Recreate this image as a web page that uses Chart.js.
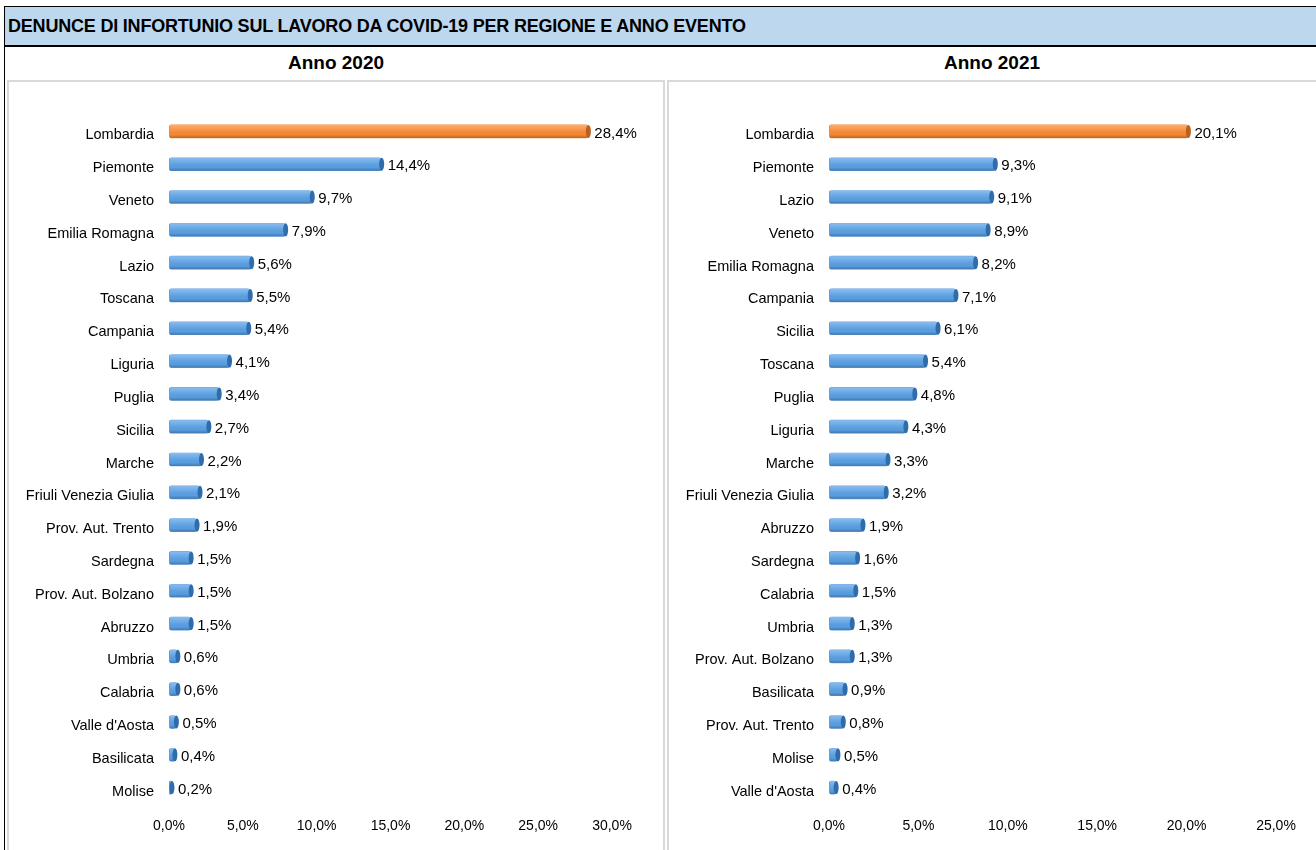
<!DOCTYPE html>
<html>
<head>
<meta charset="utf-8">
<script src="https://cdn.jsdelivr.net/npm/chart.js@4.4.1/dist/chart.umd.min.js"></script>
<style>
  html, body { margin:0; padding:0; background:#fff; width:1316px; height:850px; overflow:hidden; font-family:"Liberation Sans", Arial, sans-serif; }
  #frame { position:absolute; left:4px; top:6px; width:1312px; height:850px; border-left:1px solid #000; border-top:1px solid #000; }
  #title { position:absolute; left:5px; top:7px; width:1311px; height:40px; background:#BDD7EE; border-bottom:2px solid #000; font-weight:bold; font-size:18px; line-height:39px; padding-left:3px; box-sizing:border-box; color:#000; letter-spacing:-0.2px; }
  .sub { position:absolute; top:52px; font-weight:bold; font-size:19px; color:#000; text-align:center; }
  .panel { position:absolute; top:80px; height:780px; border:2px solid #d9d9d9; box-sizing:border-box; }
  canvas { position:absolute; }
</style>
</head>
<body>
<div id="frame"></div>
<div id="title">DENUNCE DI INFORTUNIO SUL LAVORO DA COVID-19 PER REGIONE E ANNO EVENTO</div>
<div class="sub" style="left:8px; width:656px;">Anno 2020</div>
<div class="sub" style="left:668px; width:648px;">Anno 2021</div>
<div class="panel" style="left:7px; width:658px;"></div>
<div class="panel" style="left:667px; width:660px;"></div>
<canvas id="c2020" style="left:8px; top:80px;" width="656" height="770"></canvas>
<canvas id="c2021" style="left:668px; top:80px;" width="648" height="770"></canvas>
<script>
const regions2020 = ["Lombardia","Piemonte","Veneto","Emilia Romagna","Lazio","Toscana","Campania","Liguria","Puglia","Sicilia","Marche","Friuli Venezia Giulia","Prov. Aut. Trento","Sardegna","Prov. Aut. Bolzano","Abruzzo","Umbria","Calabria","Valle d'Aosta","Basilicata","Molise"];
const values2020 = [28.4,14.4,9.7,7.9,5.6,5.5,5.4,4.1,3.4,2.7,2.2,2.1,1.9,1.5,1.5,1.5,0.6,0.6,0.5,0.4,0.2];
const regions2021 = ["Lombardia","Piemonte","Lazio","Veneto","Emilia Romagna","Campania","Sicilia","Toscana","Puglia","Liguria","Marche","Friuli Venezia Giulia","Abruzzo","Sardegna","Calabria","Umbria","Prov. Aut. Bolzano","Basilicata","Prov. Aut. Trento","Molise","Valle d'Aosta"];
const values2021 = [20.1,9.3,9.1,8.9,8.2,7.1,6.1,5.4,4.8,4.3,3.3,3.2,1.9,1.6,1.5,1.3,1.3,0.9,0.8,0.5,0.4];
const axisMax2020 = 30;
const axisMax2021 = 25;

const FONT = "'Liberation Sans', Arial, sans-serif";
const BLUE = "#5AA0E4", ORANGE = "#F98A35";
const fmt = v => v.toFixed(1).replace('.', ',') + '%';

const cylinderPlugin = {
  id: 'cylinder',
  afterDatasetsDraw(chart) {
    const ctx = chart.ctx;
    const meta = chart.getDatasetMeta(0);
    const ds = chart.data.datasets[0];
    meta.data.forEach((bar, i) => {
      const { x, y, base, height } = bar.getProps(['x','y','base','height'], true);
      const top = y - height/2, h = height;
      ctx.save();
      const g = ctx.createLinearGradient(0, top, 0, top + h);
      g.addColorStop(0, 'rgba(255,255,255,0.30)');
      g.addColorStop(0.4, 'rgba(255,255,255,0.08)');
      g.addColorStop(0.75, 'rgba(0,0,0,0.02)');
      g.addColorStop(1, 'rgba(0,0,0,0.25)');
      ctx.fillStyle = g;
      ctx.beginPath();
      ctx.rect(base + 1, top, Math.max(x - base - 1, 0), h);
      ctx.fill();
      const cap = i === 0 ? '#B8601F' : '#2E6CAB';
      ctx.fillStyle = cap;
      ctx.beginPath();
      ctx.ellipse(x, y, 2.5, h/2, 0, 0, Math.PI*2);
      ctx.fill();
      ctx.fillStyle = '#000';
      ctx.font = '15px ' + FONT;
      ctx.textAlign = 'left';
      ctx.textBaseline = 'middle';
      ctx.fillText(fmt(ds.data[i]), x + 6, y + 2);
      ctx.restore();
    });
  }
};

function makeChart(id, labels, values, max, padRight) {
  new Chart(document.getElementById(id), {
    type: 'bar',
    data: {
      labels: labels,
      datasets: [{
        data: values,
        backgroundColor: values.map((v, i) => i === 0 ? ORANGE : BLUE),
        borderWidth: 0,
        borderRadius: 3,
        borderSkipped: false,
        barThickness: 13
      }]
    },
    options: {
      indexAxis: 'y',
      responsive: false,
      animation: false,
      layout: { padding: { top: 35, right: padRight, bottom: 16, left: 0 } },
      plugins: { legend: { display: false }, tooltip: { enabled: false } },
      scales: {
        x: {
          min: 0, max: max,
          grid: { display: false, drawTicks: false },
          border: { display: false },
          ticks: { stepSize: 5, padding: 14, color: '#000', font: { size: 14, family: FONT }, callback: v => fmt(v) },
          afterFit: s => { s.height = 30; }
        },
        y: {
          grid: { display: false, drawTicks: false },
          border: { display: false },
          ticks: { padding: 15, labelOffset: 4, color: '#000', autoSkip: false, font: { size: 14.5, family: FONT } },
          afterFit: s => { s.width = 161; }
        }
      }
    },
    plugins: [cylinderPlugin]
  });
}

makeChart('c2020', regions2020, values2020, axisMax2020, 52);
makeChart('c2021', regions2021, values2021, axisMax2021, 40);
</script>
</body>
</html>
